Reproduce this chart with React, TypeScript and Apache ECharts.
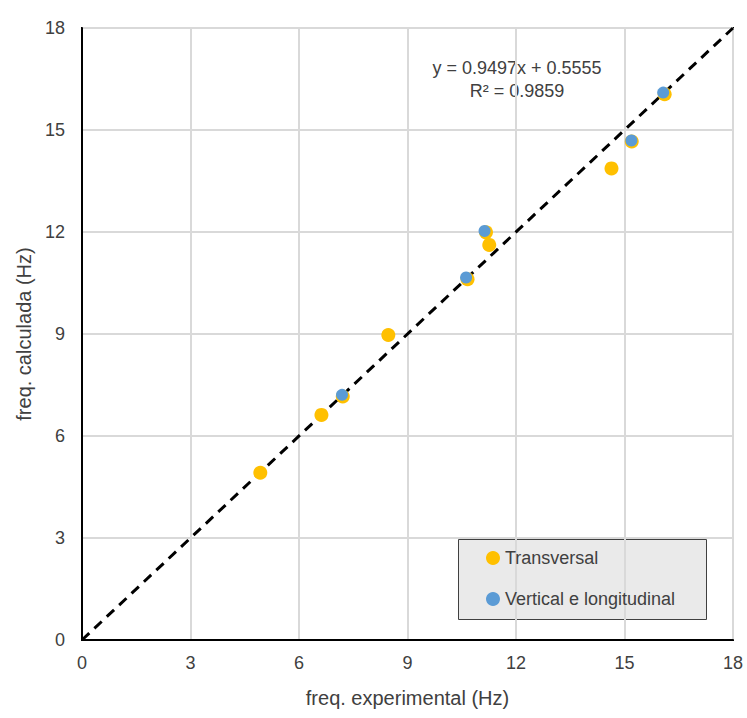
import React, { useEffect, useRef } from "react";
import * as echarts from "echarts";

const transversalX = [4.93, 6.62, 7.21, 8.47, 10.66, 11.17, 11.26, 14.64, 15.2, 16.11];
const transversalY = [4.92, 6.62, 7.16, 8.97, 10.61, 11.99, 11.62, 13.87, 14.66, 16.05];
const verticalX = [7.19, 10.62, 11.13, 15.19, 16.07];
const verticalY = [7.21, 10.66, 12.03, 14.69, 16.1];
const referenceLine = [0, 18];
const seriesNames = ["Transversal", "Vertical e longitudinal"];
const equationLines = ["y = 0.9497x + 0.5555", "R² = 0.9859"];
const xAxisName = "freq. experimental (Hz)";
const yAxisName = "freq. calculada (Hz)";

const FONT = "'Liberation Sans', Arial, sans-serif";
const TEXT = "#404040";

export default function App() {
  const ref = useRef<HTMLDivElement>(null);
  useEffect(() => {
    if (!ref.current) return;
    const chart = echarts.init(ref.current, undefined, { renderer: "svg" });
    const axisCommon = {
      type: "value",
      min: 0,
      max: 18,
      interval: 3,
      axisLine: { show: true, lineStyle: { color: "#000", width: 2 } },
      axisTick: { show: false },
      splitLine: { show: true, lineStyle: { color: "#d9d9d9", width: 2 } },
      nameLocation: "middle",
      nameTextStyle: { fontFamily: FONT, fontSize: 20, color: TEXT },
    };
    chart.setOption({
      animation: false,
      textStyle: { fontFamily: FONT },
      grid: { left: 82, top: 28, right: 14, bottom: 78, show: true, borderColor: "#000", borderWidth: 2, containLabel: false },
      xAxis: {
        ...axisCommon,
        name: xAxisName,
        nameGap: 48,
        axisLabel: { fontFamily: FONT, fontSize: 18, color: TEXT, margin: 14 },
      },
      yAxis: {
        ...axisCommon,
        name: yAxisName,
        nameGap: 44,
        axisLabel: { fontFamily: FONT, fontSize: 18, color: TEXT, margin: 17 },
      },
      legend: {
        orient: "vertical",
        left: 486,
        top: 548,
        padding: 0,
        itemGap: 21,
        itemWidth: 14,
        itemHeight: 14,
        z: 10,
        data: [
          { name: seriesNames[0], icon: "circle" },
          { name: seriesNames[1], icon: "circle" },
        ],
        textStyle: { fontFamily: FONT, fontSize: 18, color: TEXT, lineHeight: 20 },
      },
      graphic: {
        z: 3,
        elements: [
          {
            type: "rect",
            left: 458,
            top: 539,
            shape: { width: 248, height: 80 },
            style: { fill: "rgba(217,217,217,0.55)", stroke: "#404040", lineWidth: 1 },
          },
          {
            type: "text",
            x: 517,
            y: 68,
            style: { text: equationLines[0], fill: TEXT, font: `18px ${FONT}`, align: "center", verticalAlign: "middle" },
          },
          {
            type: "text",
            x: 517,
            y: 91,
            style: { text: equationLines[1], fill: TEXT, font: `18px ${FONT}`, align: "center", verticalAlign: "middle" },
          },
        ],
      },
      series: [
        {
          type: "line",
          data: referenceLine.map((v) => [v, v]),
          symbol: "none",
          silent: true,
          lineStyle: { color: "#000", width: 3, type: [10, 7] },
          z: 1,
        },
        {
          name: seriesNames[0],
          type: "scatter",
          data: transversalX.map((x, i) => [x, transversalY[i]]),
          symbolSize: 14,
          itemStyle: { color: "#FFC000", opacity: 1 },
          z: 3,
        },
        {
          name: seriesNames[1],
          type: "scatter",
          data: verticalX.map((x, i) => [x, verticalY[i]]),
          symbolSize: 12,
          itemStyle: { color: "#5B9BD5", opacity: 1 },
          z: 4,
        },
      ],
    });
    return () => chart.dispose();
  }, []);
  return <div ref={ref} style={{ position: "absolute", left: 0, top: 0, width: 747, height: 718 }} />;
}
